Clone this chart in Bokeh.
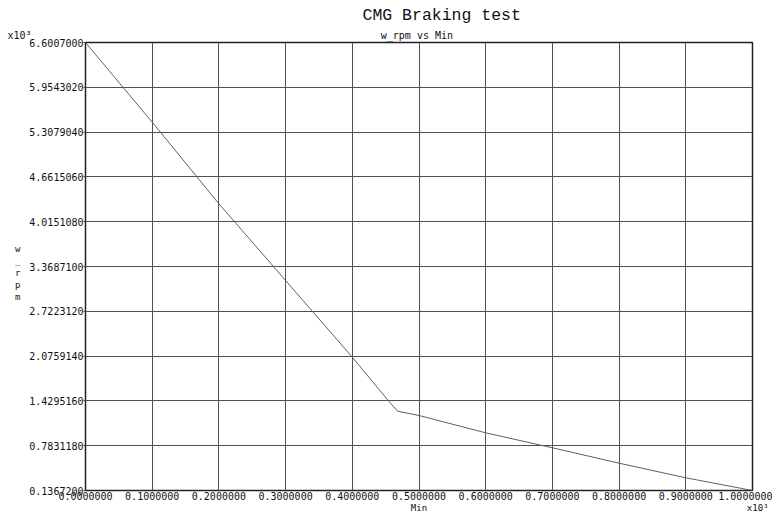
from bokeh.plotting import figure
from bokeh.models import FixedTicker, PrintfTickFormatter, Range1d, Title
from bokeh.embed import file_html
from bokeh.resources import INLINE

# ---- data (values in units of 10^3, as displayed) ----
minutes = [0.0, 0.1, 0.2, 0.3, 0.4, 0.455, 0.468, 0.5, 0.6, 0.7, 0.8, 0.9, 1.0]
w_rpm = [6.6007, 5.451, 4.274, 3.167, 2.060, 1.421, 1.281, 1.219, 0.969, 0.753, 0.531, 0.320, 0.13672]

x_ticks = [0.0, 0.1, 0.2, 0.3, 0.4, 0.5, 0.6, 0.7, 0.8, 0.9, 1.0]
y_min, y_max = 0.13672, 6.6007
y_ticks = [0.13672, 0.783118, 1.429516, 2.075914, 2.722312, 3.36871,
           4.015108, 4.661506, 5.307904, 5.954302, 6.6007]

title_text = "CMG Braking test"
subtitle_text = "w_rpm vs Min"
x_label = "Min"
y_label = "w_rpm"
exp_text = "x10\u00b3"

W, H = 772, 515
FL, FR, FT, FB = 85, 752, 42, 490  # frame edges in canvas pixels
NB = "\u00a0"

p = figure(width=W, height=H, output_backend="svg", toolbar_location=None,
           x_range=Range1d(0.0, 1.0), y_range=Range1d(y_min, y_max),
           min_border_left=FL, min_border_right=W - FR,
           min_border_top=FT, min_border_bottom=H - FB, title=None)

p.background_fill_color = "white"
p.border_fill_color = "white"
p.outline_line_color = "#222222"
p.outline_line_width = 1.5

mono = "DejaVu Sans Mono"
for ax in (p.xaxis[0], p.yaxis[0]):
    ax.axis_line_color = None
    ax.major_tick_line_color = "#444444"
    ax.major_tick_in = 0
    ax.minor_tick_line_color = None
    ax.major_label_text_font = mono
    ax.major_label_text_font_size = "10px"
    ax.major_label_text_color = "#111111"
    ax.formatter = PrintfTickFormatter(format="%.7f")
    ax.axis_label_text_font = mono
    ax.axis_label_text_font_style = "normal"
    ax.axis_label_text_color = "#111111"

xa, ya = p.xaxis[0], p.yaxis[0]
xa.ticker = FixedTicker(ticks=x_ticks)
ya.ticker = FixedTicker(ticks=y_ticks)
xa.major_tick_out = 0
xa.major_label_standoff = 1
ya.major_tick_out = 2
ya.major_label_standoff = 0

# x label: "Min" centred under the frame, exponent marker at the far right
xa.axis_label = NB * 63 + x_label + NB * 59 + exp_text
xa.axis_label_text_font_size = "9px"
xa.axis_label_standoff = 0

# y label: letters stacked vertically
ya.axis_label = "\n".join([NB] + list(y_label))
ya.axis_label_orientation = "horizontal"
ya.axis_label_text_font_size = "9px"
ya.axis_label_standoff = 6

p.xgrid.ticker = FixedTicker(ticks=x_ticks)
p.ygrid.ticker = FixedTicker(ticks=y_ticks)
for g in (p.xgrid[0], p.ygrid[0]):
    g.grid_line_color = "#505050"
    g.grid_line_width = 1
    g.grid_line_alpha = 1.0

p.line(minutes, w_rpm, line_color="#606060", line_width=1)

# titles (first added sits nearest the frame)
p.add_layout(Title(text=exp_text + NB * 58 + subtitle_text, align="left", offset=7 - FL,
                   text_font=mono, text_font_size="10px",
                   text_font_style="normal", text_color="#111111",
                   standoff=4), "above")
p.add_layout(Title(text=title_text, align="left", offset=277,
                   text_font="Liberation Mono", text_font_size="16.5px",
                   text_font_style="normal", text_color="#111111",
                   standoff=1), "above")

open("out.html", "w").write(file_html(p, INLINE))
